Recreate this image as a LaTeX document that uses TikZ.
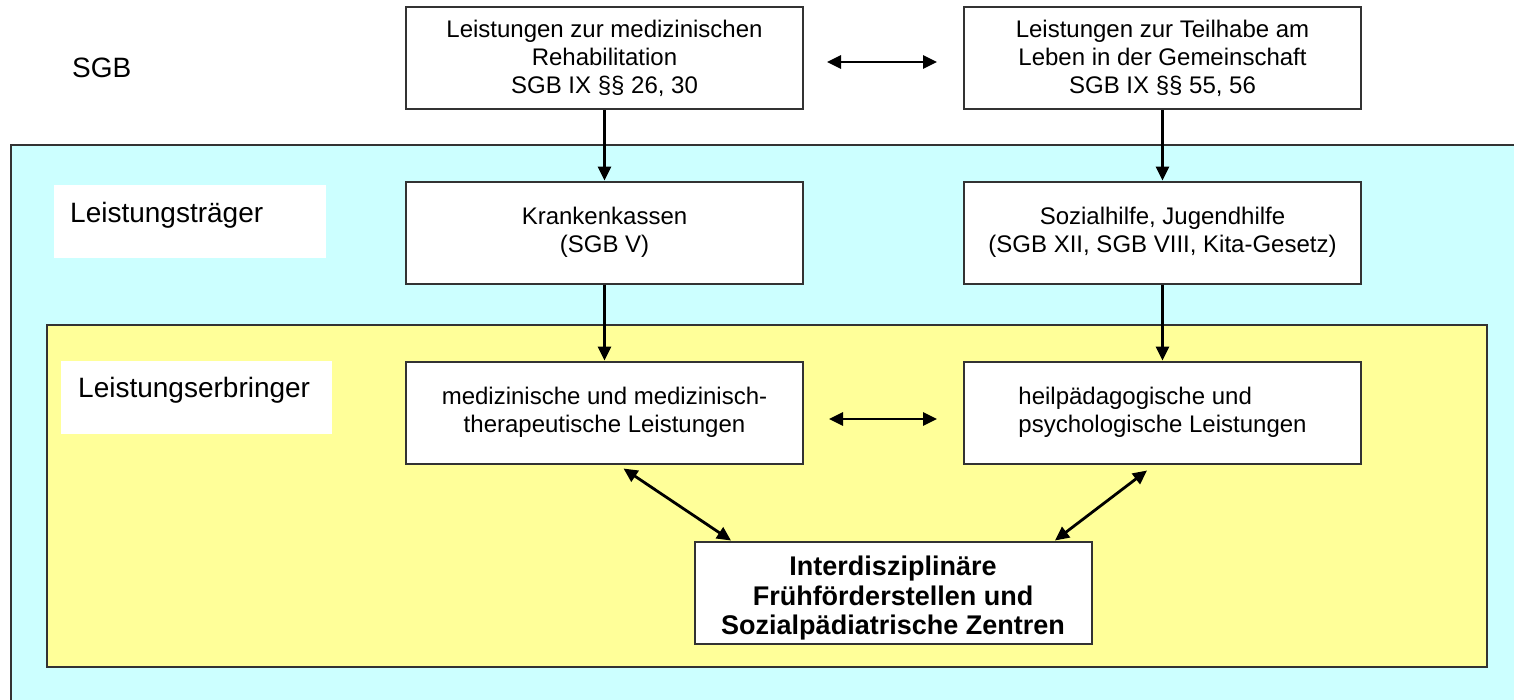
\documentclass[tikz,border=0pt]{standalone}
\usepackage{fontspec}
\setmainfont{Liberation Sans}
\usetikzlibrary{arrows.meta,calc}
\definecolor{cyanbg}{HTML}{CCFFFF}
\definecolor{yellowbg}{HTML}{FFFF99}
\definecolor{edge}{HTML}{333333}
\tikzset{
  box/.style={draw=edge,line width=2pt,fill=white,minimum width=397pt,minimum height=102pt,
    inner sep=0pt,align=center,font=\fontsize{24}{28}\selectfont,text=black},
  boldbox/.style={box,font=\fontsize{27}{29.5}\selectfont\bfseries},
  lbl/.style={anchor=base west,inner sep=0pt,font=\fontsize{28}{32}\selectfont,text=black},
  conn/.style={line width=2.8pt,-{Triangle[length=14pt,width=13pt]}},
  dconn/.style={line width=2.8pt,{Triangle[length=14pt,width=13pt]}-{Triangle[length=14pt,width=13pt]}}
}
\begin{document}
\begin{tikzpicture}[x=1pt,y=-1pt]
\clip (0,0) rectangle (1514,699);
\fill[white] (0,0) rectangle (1514,699);
% background panels
\draw[draw=edge,line width=2pt,fill=cyanbg] (11,145) rectangle (1530,720);
\draw[draw=edge,line width=2pt,fill=yellowbg] (47,325) rectangle (1487,667);
% label panels
\fill[white] (54,185) rectangle (326,258);
\fill[white] (61,361) rectangle (332,434);
\node[lbl] (sgb) at (72,77) {SGB};
\node[lbl] (lt) at (70,222) {Leistungsträger};
\node[lbl] (le) at (78,397) {Leistungserbringer};
% boxes
\node[box] (tl) at (604.5,58) {Leistungen zur medizinischen\\Rehabilitation\\SGB IX §§ 26, 30};
\node[box] (tr) at (1162.5,58) {Leistungen zur Teilhabe am\\Leben in der Gemeinschaft\\SGB IX §§ 55, 56};
\node[box] (kk) at (604.5,232.5) {Krankenkassen\\(SGB V)};
\node[box] (sh) at (1162.5,232.5) {Sozialhilfe, Jugendhilfe\\(SGB XII, SGB VIII, Kita-Gesetz)};
\node[box] (med) at (604.5,412.5) {medizinische und medizinisch-\\therapeutische Leistungen};
\node[box,align=left] (heil) at (1162.5,412.5) {heilpädagogische und\\psychologische Leistungen};
\node[boldbox] (ifs) at (893,592.5) {\rule{0pt}{31pt}Interdisziplinäre\\Frühförderstellen und\\Sozialpädiatrische Zentren};
% vertical connectors
\draw[conn] (tl.south) -- (kk.north);
\draw[conn] (tr.south) -- (sh.north);
\draw[conn] (kk.south) -- (med.north);
\draw[conn] (sh.south) -- (heil.north);
% horizontal double arrows
\coordinate (h1a) at (827,62);
\coordinate (h1b) at (937,62);
\coordinate (h2a) at (829,419);
\coordinate (h2b) at (937,419);
\draw[dconn] (h1a) -- (h1b);
\draw[dconn] (h2a) -- (h2b);
% diagonal double arrows
\draw[dconn] ([xshift=19pt,yshift=-4pt]med.south) -- ([xshift=-162pt]ifs.north);
\draw[dconn] ([xshift=-15.5pt,yshift=-6pt]heil.south) -- ([xshift=162pt]ifs.north);
\end{tikzpicture}
\end{document}
